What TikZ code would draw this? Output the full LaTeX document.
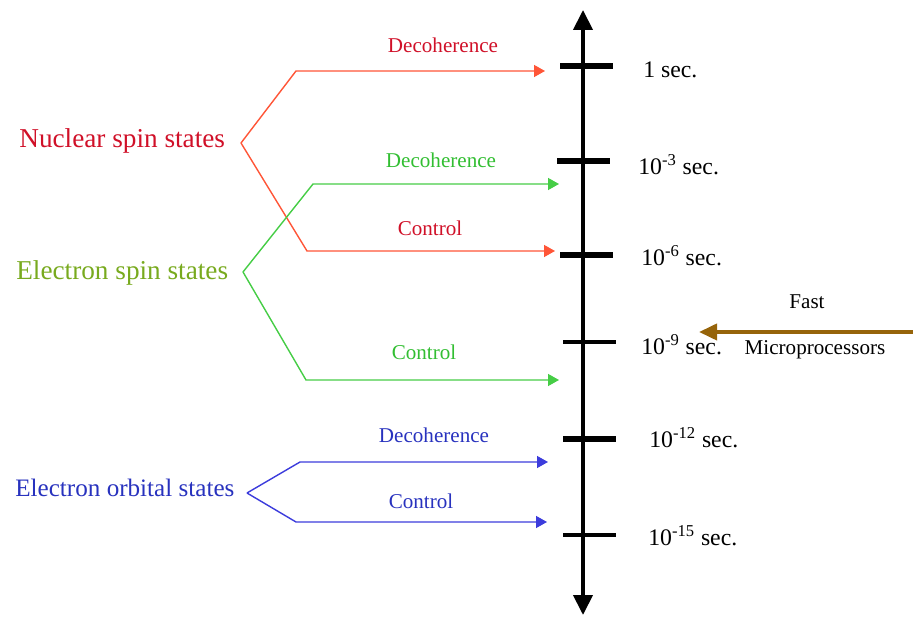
\documentclass[tikz,border=0pt]{standalone}
\usepackage{fontspec}
\setmainfont{Liberation Serif}
\usepackage{tikz}
\usetikzlibrary{arrows.meta, positioning}
\definecolor{nuctext}{RGB}{208,16,40}
\definecolor{nucline}{RGB}{255,85,55}
\definecolor{esptext}{RGB}{120,170,30}
\definecolor{espgreen}{RGB}{50,190,50}
\definecolor{espline}{RGB}{70,205,70}
\definecolor{orbtext}{RGB}{40,50,190}
\definecolor{orbline}{RGB}{60,60,220}
\definecolor{mybrown}{RGB}{150,100,10}
\tikzset{
  statelbl/.style={font=\fontsize{15.5}{18}\selectfont, anchor=base west, inner sep=0pt},
  proclbl/.style={font=\fontsize{12}{14}\selectfont, anchor=base, inner sep=0pt},
  timelbl/.style={font=\fontsize{13.5}{16}\selectfont, anchor=base west, inner sep=0pt},
  redarrow/.style={-{Triangle[length=0.22cm,width=0.24cm]}, line width=0.8pt, color=nucline},
  greenarrow/.style={-{Triangle[length=0.22cm,width=0.24cm]}, line width=0.8pt, color=espline},
  bluearrow/.style={-{Triangle[length=0.22cm,width=0.24cm]}, line width=0.8pt, color=orbline},
  brownarrow/.style={-{Triangle[length=0.36cm,width=0.32cm]}, line width=2.2pt, color=mybrown},
  axis/.style={{Triangle[length=0.4cm,width=0.38cm]}-{Triangle[length=0.4cm,width=0.38cm]}, line width=2.3pt},
  tickbig/.style={line width=3pt},
  ticksmall/.style={line width=2.2pt}
}
\begin{document}
\begin{tikzpicture}[x=0.02cm, y=-0.02cm]
  \useasboundingbox (0,0) rectangle (913,617);

  % Time axis
  \coordinate (axtop) at (583,10);
  \coordinate (axbot) at (583,615);
  \draw[axis] (axbot) -- (axtop);

  % Ticks
  \draw[tickbig] (560,66) -- (613,66);
  \draw[tickbig] (557,161) -- (610,161);
  \draw[tickbig] (560,255) -- (613,255);
  \draw[ticksmall] (563,342) -- (616,342);
  \draw[tickbig] (563,439) -- (616,439);
  \draw[ticksmall] (563,535) -- (616,535);

  % Time labels
  \node[timelbl] (t0) at (643,78) {1 sec.};
  \node[timelbl] (t3) at (638,175) {10\textsuperscript{-3} sec.};
  \node[timelbl] (t6) at (641,266) {10\textsuperscript{-6} sec.};
  \node[timelbl] (t9) at (641,355) {10\textsuperscript{-9} sec.};
  \node[timelbl] (t12) at (649,448) {10\textsuperscript{-12} sec.};
  \node[timelbl] (t15) at (648,546) {10\textsuperscript{-15} sec.};

  % Microprocessors
  \node[proclbl] (fast) at (807,309) {Fast};
  \node[proclbl] (micro) at (815,355) {Microprocessors};
  \coordinate (microin) at (913,332);
  \coordinate (microtip) at (699,332);
  \draw[brownarrow] (microin) -- (microtip);

  % Nuclear spin states
  \node[statelbl, text=nuctext] (nuc) at (19,148) {Nuclear spin states};
  \coordinate (nucfork) at (241,143);
  \coordinate (nucdecbend) at (296,71);
  \coordinate (nucdecend) at (545,71);
  \coordinate (nucctlbend) at (307,251);
  \coordinate (nucctlend) at (555,251);
  \draw[redarrow] (nucfork) -- (nucdecbend) -- (nucdecend);
  \draw[redarrow] (nucfork) -- (nucctlbend) -- (nucctlend);
  \node[proclbl, text=nuctext] (nucdec) at (443,53) {Decoherence};
  \node[proclbl, text=nuctext] (nucctl) at (430,236) {Control};

  % Electron spin states
  \node[statelbl, text=esptext] (esp) at (16,280) {Electron spin states};
  \coordinate (espfork) at (243,272);
  \coordinate (espdecbend) at (313,184);
  \coordinate (espdecend) at (559,184);
  \coordinate (espctlbend) at (306,380);
  \coordinate (espctlend) at (559,380);
  \draw[greenarrow] (espfork) -- (espdecbend) -- (espdecend);
  \draw[greenarrow] (espfork) -- (espctlbend) -- (espctlend);
  \node[proclbl, text=espgreen] (espdec) at (441,168) {Decoherence};
  \node[proclbl, text=espgreen] (espctl) at (424,360) {Control};

  % Electron orbital states
  \node[statelbl, text=orbtext, font=\fontsize{14.3}{17}\selectfont] (orb) at (15,497) {Electron orbital states};
  \coordinate (orbfork) at (247,493);
  \coordinate (orbdecbend) at (300,462);
  \coordinate (orbdecend) at (548,462);
  \coordinate (orbctlbend) at (296,522);
  \coordinate (orbctlend) at (547,522);
  \draw[bluearrow] (orbfork) -- (orbdecbend) -- (orbdecend);
  \draw[bluearrow] (orbfork) -- (orbctlbend) -- (orbctlend);
  \node[proclbl, text=orbtext] (orbdec) at (434,443) {Decoherence};
  \node[proclbl, text=orbtext] (orbctl) at (421,509) {Control};
\end{tikzpicture}
\end{document}
